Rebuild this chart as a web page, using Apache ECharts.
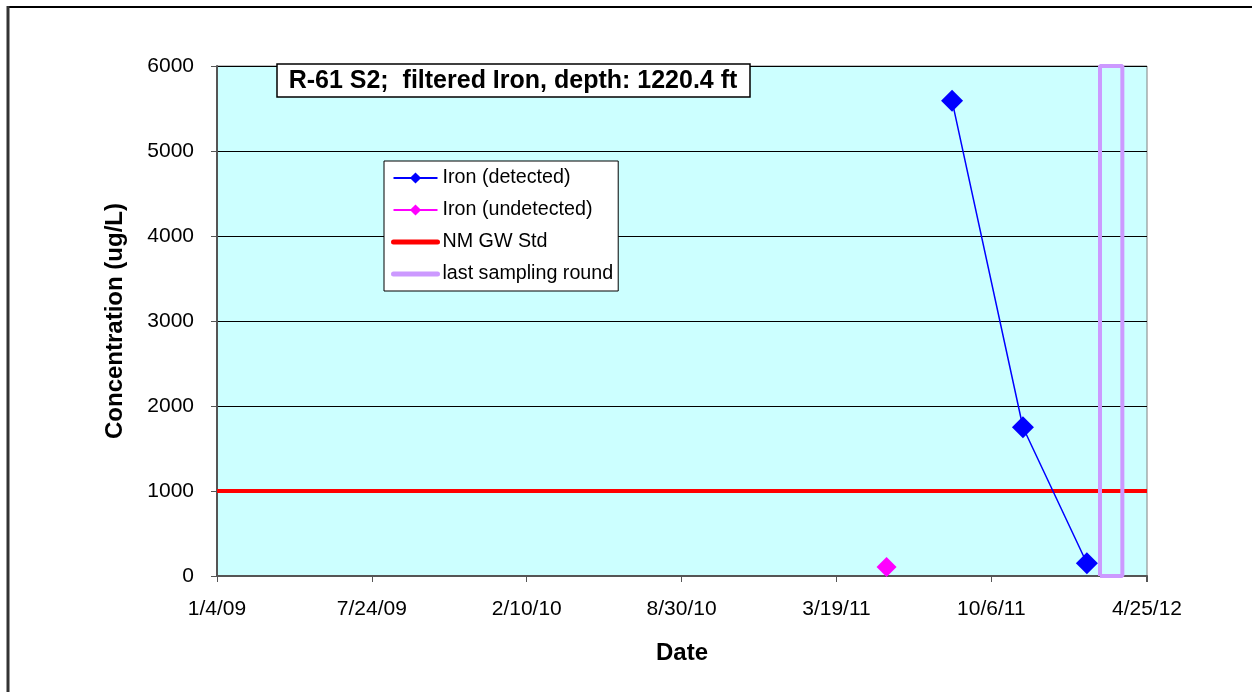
<!DOCTYPE html>
<html><head><meta charset="utf-8">
<script src="https://cdn.jsdelivr.net/npm/echarts@6/dist/echarts.min.js"></script>
<style>html,body{margin:0;padding:0;background:#fff}#c{width:1252px;height:692px}</style>
</head><body><div id="c"></div>
<script>
const detectedDates = ['8/16/11', '11/16/11', '2/7/12'];
const detectedValues = [5590, 1750, 150];
const undetectedDates = ['5/23/11'];
const undetectedValues = [105];
const stdDates = ['1/4/09', '4/25/12'];
const stdValues = [1000, 1000];
const lastRoundDates = ['2/24/12', '2/24/12', '3/24/12', '3/24/12', '2/24/12'];
const lastRoundValues = [0, 6000, 6000, 0, 0];
const xTickLabels = ['1/4/09', '7/24/09', '2/10/10', '8/30/10', '3/19/11', '10/6/11', '4/25/12'];
const yTicks = [0, 1000, 2000, 3000, 4000, 5000, 6000];

const DAY = 86400000;
function toUTC(s){const p=s.split('/').map(Number);return Date.UTC(2000+p[2],p[0]-1,p[1]);}
const origin = toUTC(xTickLabels[0]);
function dayOf(s){return Math.round((toUTC(s)-origin)/DAY);}
function pairs(ds, vs){return ds.map((d,i)=>[dayOf(d), vs[i]]);}
const xMax = dayOf(xTickLabels[xTickLabels.length-1]);
const xInterval = dayOf(xTickLabels[1]);
const labelMap = {}; xTickLabels.forEach(l=>{labelMap[dayOf(l)]=l;});

const font = 'Liberation Sans, Arial, sans-serif';
const chart = echarts.init(document.getElementById('c'));
chart.setOption({
  animation:false,
  backgroundColor:'#ffffff',
  textStyle:{fontFamily:font},
  grid:{left:217, top:66, width:930, height:510, show:true, backgroundColor:'#CCFFFF', borderColor:'#808080', borderWidth:1},
  xAxis:{type:'value', min:0, max:xMax, interval:xInterval,
    name:'Date', nameLocation:'middle', nameGap:65,
    nameTextStyle:{fontSize:24, fontWeight:'bold', color:'#000', fontFamily:font},
    axisLine:{lineStyle:{color:'#555', width:2}}, axisTick:{show:true, length:6, lineStyle:{color:'#555'}},
    axisLabel:{fontSize:21, color:'#000', margin:23, fontFamily:font, formatter:v=>labelMap[v]||''},
    splitLine:{show:false}},
  yAxis:{type:'value', min:0, max:6000, interval:1000,
    name:'Concentration (ug/L)', nameLocation:'middle', nameGap:90, nameRotate:90,
    nameTextStyle:{fontSize:24, fontWeight:'bold', color:'#000', fontFamily:font},
    axisLine:{show:true, lineStyle:{color:'#555', width:2}}, axisTick:{show:true, length:6, lineStyle:{color:'#555'}},
    axisLabel:{fontSize:21, color:'#000', margin:23, fontFamily:font, formatter:v=>String(v)},
    splitLine:{show:true, lineStyle:{color:'#000', width:1}}},
  legend:{orient:'vertical', left:384, top:161, padding:[7,5,7,7], itemGap:12,
    backgroundColor:'#fff', borderColor:'#000', borderWidth:1,
    itemWidth:44, itemHeight:14,
    textStyle:{fontSize:19.7, color:'#000', fontFamily:font, padding:[0,0,0,0]},
    data:[{name:'Iron (detected)'},{name:'Iron (undetected)'},
      {name:'NM GW Std', itemStyle:{opacity:0}, lineStyle:{width:5, cap:'round', color:'#FF0000'}},
      {name:'last sampling round', itemStyle:{opacity:0}, lineStyle:{width:5, cap:'round', color:'#CC99FF'}}]},
  series:[
    {name:'NM GW Std', type:'line', data:pairs(stdDates,stdValues), symbol:'none',
      lineStyle:{color:'#FF0000', width:4}, itemStyle:{color:'#FF0000'}, z:3},
    {name:'last sampling round', type:'line', data:pairs(lastRoundDates,lastRoundValues), symbol:'none',
      lineStyle:{color:'#CC99FF', width:4}, itemStyle:{color:'#CC99FF'}, z:4},
    {name:'Iron (detected)', type:'line', data:pairs(detectedDates,detectedValues), symbol:'diamond', symbolSize:22,
      lineStyle:{color:'#0000FF', width:1.5}, itemStyle:{color:'#0000FF'}, z:5},
    {name:'Iron (undetected)', type:'line', data:pairs(undetectedDates,undetectedValues), symbol:'diamond', symbolSize:20,
      lineStyle:{color:'#FF00FF', width:1.5}, itemStyle:{color:'#FF00FF'}, z:5}
  ],
  graphic:[
    {type:'rect', shape:{x:277, y:64, width:473, height:33}, style:{fill:'#fff', stroke:'#000', lineWidth:1.5}, z:10},
    {type:'text', x:513, y:81, style:{text:'R-61 S2;  filtered Iron, depth: 1220.4 ft', fontSize:25, fontWeight:'bold', fontFamily:font, fill:'#000', textAlign:'center', textVerticalAlign:'middle'}, z:11},
    {type:'line', shape:{x1:8, y1:7, x2:1252, y2:7}, style:{stroke:'#000', lineWidth:2}},
    {type:'line', shape:{x1:8, y1:6, x2:8, y2:692}, style:{stroke:'#333', lineWidth:3}}
  ]
});
</script></body></html>
